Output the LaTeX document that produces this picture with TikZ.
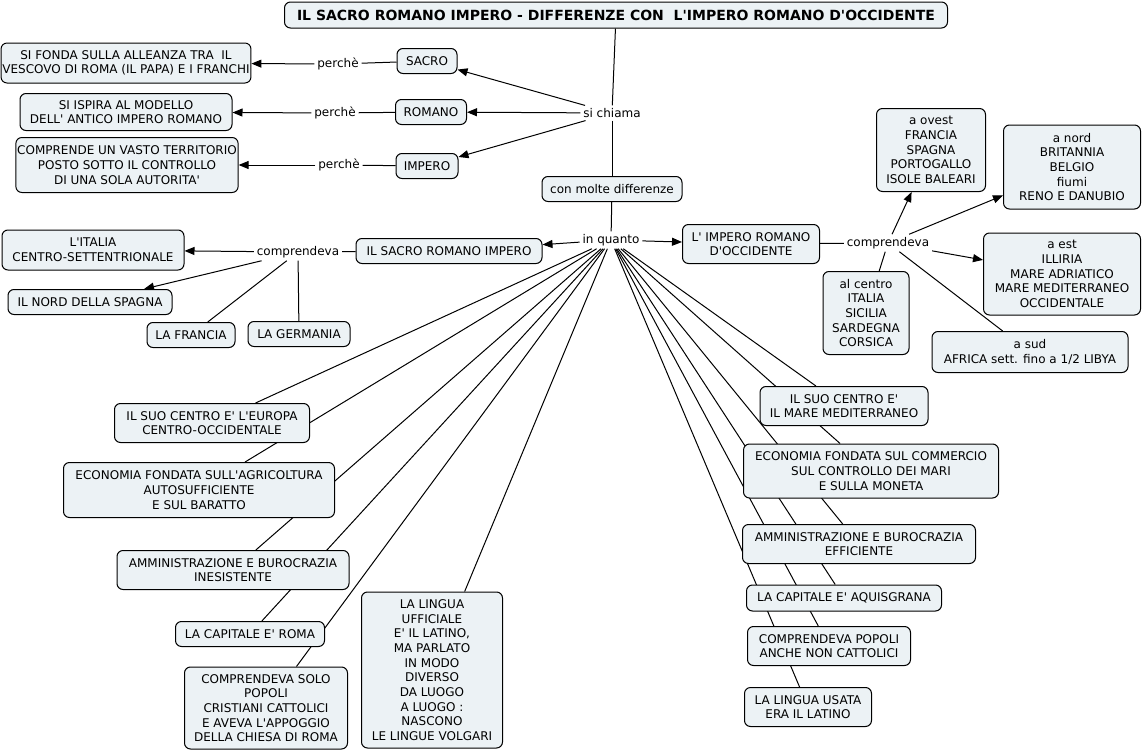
\documentclass[tikz,border=0pt]{standalone}
\usepackage{fontspec}
\setmainfont{DejaVu Sans}
\usetikzlibrary{arrows.meta,backgrounds}
\definecolor{boxfill}{RGB}{236,242,245}
\newcommand{\q}{\textquotesingle}
\tikzset{
  concept/.style={draw=black, line width=0.75pt, rounded corners=4.5pt, fill=boxfill,
    align=center, inner sep=1pt, font=\fontsize{9}{11}\selectfont},
  sz/.style 2 args={minimum width=#1*0.75pt, minimum height=#2*0.75pt},
  lbl/.style={fill=white, inner sep=2pt, font=\fontsize{9}{11}\selectfont},
  link/.style={line width=0.75pt, draw=black},
  arr/.style={link, -{Triangle[length=7.5pt,width=6pt]}},
}
\begin{document}
\begin{tikzpicture}[x=0.75pt,y=-0.75pt]
\useasboundingbox (0,0) rectangle (1143,753);
% top
\node[concept, sz={663}{26}, font=\bfseries\fontsize{10.5}{12}\selectfont] (title) at (616,15) {IL SACRO ROMANO IMPERO - DIFFERENZE CON~~L\q{}IMPERO ROMANO D\q{}OCCIDENTE};
\node[concept, sz={248}{40}] (sifonda) at (126,63) {SI FONDA SULLA ALLEANZA TRA~~IL\\VESCOVO DI ROMA (IL PAPA) E I FRANCHI};
\node[lbl] (p1) at (338,64) {perchè};
\node[concept, sz={60}{25}] (sacro) at (427,61) {SACRO};
\node[concept, sz={212}{37}] (siispira) at (126,112) {SI ISPIRA AL MODELLO\\DELL\q{} ANTICO IMPERO ROMANO};
\node[lbl] (p2) at (335,113) {perchè};
\node[concept, sz={71}{25}] (romano) at (431,112) {ROMANO};
\node[concept, sz={215}{55}] (comprende) at (127,165) {COMPRENDE UN VASTO TERRITORIO\\POSTO SOTTO IL CONTROLLO\\DI UNA SOLA AUTORITA\q{}};
\node[lbl] (p3) at (339,165) {perchè};
\node[concept, sz={62}{25}] (impero) at (427,166) {IMPERO};
\node[lbl] (sichiama) at (612,113) {si chiama};
\node[concept, sz={140}{25}] (conmolte) at (612,189) {con molte differenze};
\node[lbl] (inquanto) at (611,240) {in quanto};
% left middle
\node[concept, sz={186}{25}] (sri) at (449,251) {IL SACRO ROMANO IMPERO};
\node[lbl] (compL) at (298,252) {comprendeva};
\node[concept, sz={182}{40}] (italia) at (93,250) {L\q{}ITALIA\\CENTRO-SETTENTRIONALE};
\node[concept, sz={164}{25}] (spagna) at (90,302) {IL NORD DELLA SPAGNA};
\node[concept, sz={88}{25}] (francia) at (191,335) {LA FRANCIA};
\node[concept, sz={102}{25}] (germania) at (299,334) {LA GERMANIA};
% right middle
\node[concept, sz={137}{39}] (iro) at (751,244) {L\q{} IMPERO ROMANO\\D\q{}OCCIDENTE};
\node[lbl] (compR) at (888,243) {comprendeva};
\node[concept, sz={109}{83}] (ovest) at (931,150) {a ovest\\FRANCIA\\SPAGNA\\PORTOGALLO\\ISOLE BALEARI};
\node[concept, sz={137}{84}] (nord) at (1072,167) {a nord\\BRITANNIA\\BELGIO\\fiumi\\RENO E DANUBIO};
\node[concept, sz={157}{82}] (est) at (1062,274) {a est\\ILLIRIA\\MARE ADRIATICO\\MARE MEDITERRANEO\\OCCIDENTALE};
\node[concept, sz={196}{41}] (sud) at (1030,352) {a sud\\AFRICA sett. fino a 1/2 LIBYA};
\node[concept, sz={86}{83}] (centro) at (866,313) {al centro\\ITALIA\\SICILIA\\SARDEGNA\\CORSICA};
% bottom left
\node[concept, sz={195}{39}] (l1) at (212,423) {IL SUO CENTRO E\q{} L\q{}EUROPA\\CENTRO-OCCIDENTALE};
\node[concept, sz={271}{55}] (l2) at (199,490) {ECONOMIA FONDATA SULL\q{}AGRICOLTURA\\AUTOSUFFICIENTE\\E SUL BARATTO};
\node[concept, sz={232}{39}] (l3) at (233,570) {AMMINISTRAZIONE E BUROCRAZIA\\INESISTENTE};
\node[concept, sz={149}{25}] (l4) at (250,634) {LA CAPITALE E\q{} ROMA};
\node[concept, sz={163}{82}] (l5) at (266,708) {COMPRENDEVA SOLO\\POPOLI\\CRISTIANI CATTOLICI\\E AVEVA L\q{}APPOGGIO\\DELLA CHIESA DI ROMA};
\node[concept, sz={141}{156}] (l6) at (432,670) {LA LINGUA\\UFFICIALE\\E\q{} IL LATINO,\\MA PARLATO\\IN MODO\\DIVERSO\\DA LUOGO\\A LUOGO :\\NASCONO\\LE LINGUE VOLGARI};
% bottom right
\node[concept, sz={168}{39}] (r1) at (844,406) {IL SUO CENTRO E\q{}\\IL MARE MEDITERRANEO};
\node[concept, sz={255}{54}] (r2) at (871,471) {ECONOMIA FONDATA SUL COMMERCIO\\SUL CONTROLLO DEI MARI\\E SULLA MONETA};
\node[concept, sz={233}{39}] (r3) at (859,544) {AMMINISTRAZIONE E BUROCRAZIA\\EFFICIENTE};
\node[concept, sz={195}{26}] (r4) at (844,598) {LA CAPITALE E\q{} AQUISGRANA};
\node[concept, sz={163}{39}] (r5) at (829,646) {COMPRENDEVA POPOLI\\ANCHE NON CATTOLICI};
\node[concept, sz={127}{39}] (r6) at (808,707) {LA LINGUA USATA\\ERA IL LATINO};

\begin{pgfonlayer}{background}
\draw[link] (title) -- (sichiama);
\draw[link] (sichiama) -- (conmolte);
\draw[link] (conmolte) -- (inquanto);
\draw[arr] (sichiama) -- (sacro);
\draw[arr] (sichiama) -- (romano);
\draw[arr] (sichiama) -- (impero);
\draw[link] (sacro) -- (p1);
\draw[arr] (p1) -- (sifonda);
\draw[link] (romano) -- (p2);
\draw[arr] (p2) -- (siispira);
\draw[link] (impero) -- (p3);
\draw[arr] (p3) -- (comprende);
\draw[arr] (inquanto) -- (sri);
\draw[arr] (inquanto) -- (iro);
\draw[link] (sri) -- (compL);
\draw[arr] (compL) -- (italia);
\draw[arr] (compL) -- (spagna);
\draw[link] (compL) -- (francia);
\draw[link] (compL) -- (germania);
\draw[link] (iro) -- (compR);
\draw[arr] (compR) -- (ovest);
\draw[arr] (compR) -- (nord);
\draw[arr] (compR) -- (est);
\draw[link] (compR) -- (sud);
\draw[link] (compR) -- (centro);
\foreach \t in {l1,l2,l3,l4,l5,l6,r1,r2,r3,r4,r5,r6}
  \draw[link] (inquanto) -- (\t);
\end{pgfonlayer}
\end{tikzpicture}
\end{document}
